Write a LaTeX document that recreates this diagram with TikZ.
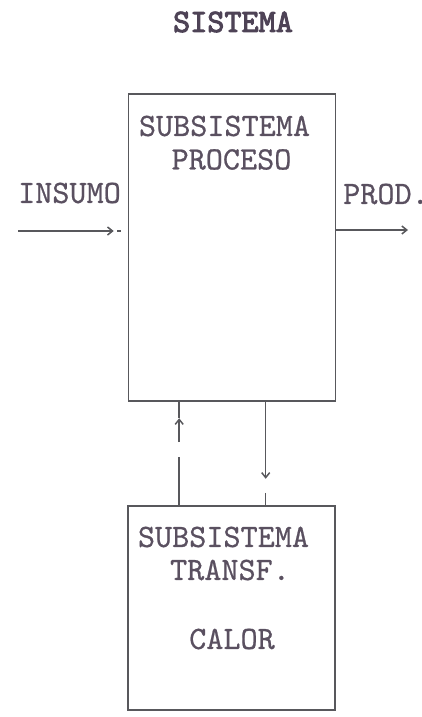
\documentclass[tikz,border=0pt]{standalone}
\usepackage{fontspec}
\usepackage{tikz}
\usetikzlibrary{arrows.meta,calc,positioning}
\newfontfamily\typefont{lmmono10-regular.otf}[FakeBold=0.6]
\newfontfamily\heavyfont{lmmono10-regular.otf}[FakeBold=3]
\definecolor{ink}{HTML}{5A5060}
\definecolor{titleink}{HTML}{4E4356}
\definecolor{linegray}{HTML}{58585C}
\tikzset{
  wire/.style={line width=1.5pt,color=linegray},
  flowarr/.style={-{Straight Barb[length=5pt,width=8pt]},line width=1.5pt,color=linegray},
  subbox/.style={draw=linegray,line width=1.6pt,minimum width=207pt,inner sep=0pt},
  typetext/.style={font=\typefont\fontsize{32.6}{32}\selectfont,text=ink,inner sep=0pt}
}
\begin{document}
\begin{tikzpicture}[x=1pt,y=-1pt]
  \useasboundingbox (0,0) rectangle (422,717);
  \node[typetext,font=\heavyfont\fontsize{32.6}{32}\selectfont,text=titleink] (title) at (233,22) {SISTEMA};
  % the two subsystems
  \node[subbox,minimum height=307pt] (proc) at (232,247.5) {};
  \node[subbox,minimum height=204pt] (transf) at (231.5,608) {};
  \node[typetext] (procA) at (224.5,126) {SUBSISTEMA};
  \node[typetext] (procB) at (231.5,159.5) {PROCESO};
  \node[typetext] (transfA) at (223.5,537) {SUBSISTEMA};
  \node[typetext] (transfB) at (230,570) {TRANSF.};
  \node[typetext] (transfC) at (232,639) {CALOR};
  % inputs and outputs
  \node[typetext] (insumo) at (69.5,193) {INSUMO};
  \node[typetext,anchor=west] (prod) at (343,194) {PROD.};
  \coordinate (instart) at (18,231);
  \coordinate (outend) at (408,230);
  \draw[flowarr] (instart) -- ($(proc.west |- instart)+(-14,0)$);
  \draw[wire] ($(proc.west |- instart)+(-7,0)$) -- ++(-4,0);
  \draw[flowarr] (proc.east |- outend) -- (outend);
  % heat exchange between the subsystems
  \coordinate (lfoot) at ($(transf.north west)+(52,0)$);
  \coordinate (rtop) at ($(proc.south west)+(138,0)$);
  \draw[wire] (lfoot) -- ++(0,-48);
  \draw[flowarr] ($(lfoot)+(0,-63)$) -- ++(0,-24);
  \draw[wire] ($(lfoot)+(0,-87)$) -- (lfoot |- proc.south);
  \draw[flowarr] (rtop) -- ++(0,77);
  \draw[wire] ($(rtop)+(0,91)$) -- (rtop |- transf.north);
\end{tikzpicture}
\end{document}
